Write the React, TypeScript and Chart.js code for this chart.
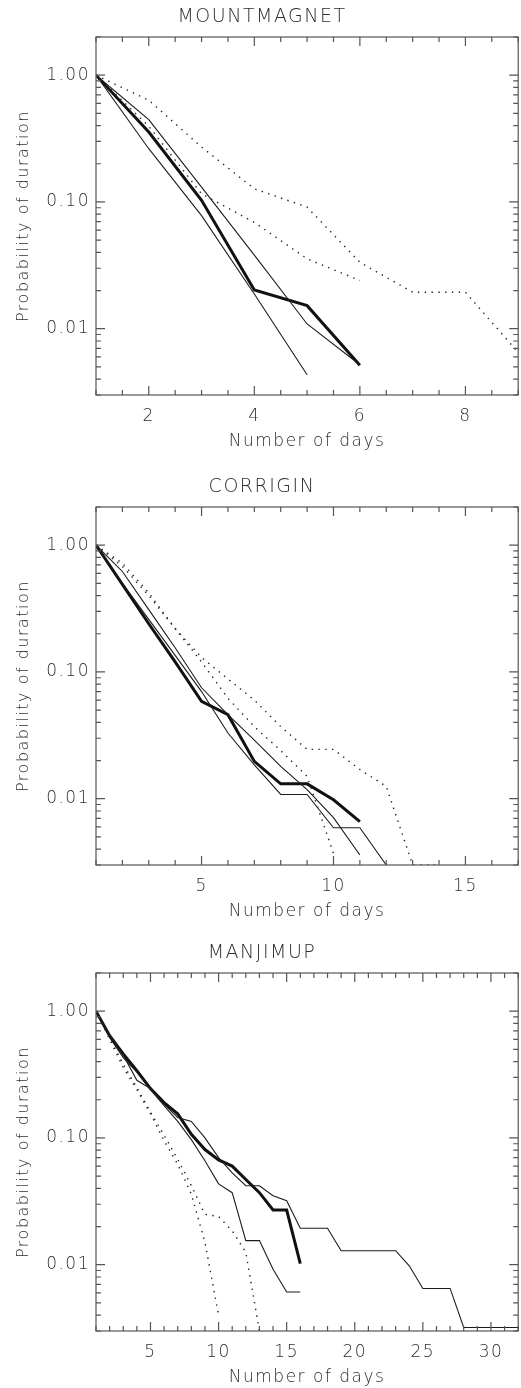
import React, { useEffect, useRef } from 'react';
import { Chart, registerables } from 'chart.js';

Chart.register(...registerables);

// ---------- shared axis data ----------
const Y_MIN = 0.003;
const Y_MAX = 2;
const yLabelValues = [0.01, 0.1, 1];
const yLabelTexts = ['0.01', '0.10', '1.00'];
const yAxisTitle = 'Probability of duration';
const xAxisTitle = 'Number of days';

// ---------- MOUNTMAGNET ----------
const mmTitle = 'MOUNTMAGNET';
const mmDays = [1, 2, 3, 4, 5, 6, 7, 8, 9];
const mmThick = [1.0, 0.356, 0.103, 0.0202, 0.0152, 0.00516];
const mmThinA = [1.0, 0.446, 0.131, 0.038, 0.0109, 0.0052];
const mmThinB = [1.0, 0.263, 0.078, 0.0188, 0.00433];
const mmDotA = [1.0, 0.634, 0.271, 0.127, 0.091, 0.0334, 0.0194, 0.0194, 0.0065];
const mmDotB = [1.0, 0.395, 0.116, 0.069, 0.0356, 0.024];

// ---------- CORRIGIN ----------
const coTitle = 'CORRIGIN';
const coDays = [1, 2, 3, 4, 5, 6, 7, 8, 9, 10, 11, 12, 13, 14, 15, 16, 17];
const coThick = [1.0, 0.49, 0.24, 0.12, 0.0587, 0.046, 0.0197, 0.0131, 0.0131, 0.0098, 0.0066];
const coThinA = [1.0, 0.62, 0.31, 0.155, 0.075, 0.046, 0.029, 0.018, 0.0118, 0.0071, 0.0036];
const coThinB = [1.0, 0.5, 0.26, 0.135, 0.07, 0.033, 0.0185, 0.0108, 0.0108, 0.0059, 0.0059, 0.003];
const coDotA = [1.0, 0.68, 0.4, 0.22, 0.13, 0.088, 0.06, 0.037, 0.0245, 0.0245, 0.017, 0.0125, 0.003, 0.003];
const coDotB = [1.0, 0.72, 0.42, 0.22, 0.12, 0.062, 0.037, 0.024, 0.015, 0.0037];

// ---------- MANJIMUP ----------
const maTitle = 'MANJIMUP';
const maDays = [
  1, 2, 3, 4, 5, 6, 7, 8, 9, 10, 11, 12, 13, 14, 15, 16,
  17, 18, 19, 20, 21, 22, 23, 24, 25, 26, 27, 28, 29, 30, 31, 32,
];
const maThick = [1.0, 0.64, 0.46, 0.34, 0.245, 0.19, 0.155, 0.107, 0.081, 0.067, 0.06, 0.047, 0.037, 0.027, 0.027, 0.0102];
const maThinA = [
  1.0, 0.65, 0.45, 0.285, 0.245, 0.185, 0.145, 0.135, 0.1, 0.07, 0.053, 0.042, 0.042, 0.035, 0.032, 0.0194,
  0.0194, 0.0194, 0.0129, 0.0129, 0.0129, 0.0129, 0.0129, 0.0098, 0.0065, 0.0065, 0.0065, 0.0032, 0.0032, 0.0032, 0.0032, 0.0032,
];
const maThinB = [1.0, 0.62, 0.43, 0.33, 0.24, 0.18, 0.135, 0.097, 0.066, 0.0434, 0.037, 0.0155, 0.0155, 0.0092, 0.0061, 0.0061];
const maDotA = [1.0, 0.6, 0.36, 0.24, 0.155, 0.095, 0.062, 0.036, 0.015, 0.004];
const maDotB = [1.0, 0.62, 0.38, 0.25, 0.16, 0.105, 0.068, 0.042, 0.025, 0.024, 0.0185, 0.0125, 0.003];

// ---------- styling ----------
const FAMILY = '"DejaVu Sans", "Liberation Sans", sans-serif';
const TEXT = '#2e2e2e';
const AXIS = '#555555';
const LINE = '#111111';
const CANVAS_W = 530;
const CANVAS_H = 452;
const PANEL_TOPS = [0, 470, 936];

type Style = 'thick' | 'thin' | 'dot';
type PanelCfg = {
  title: string;
  days: number[];
  xMax: number;
  minorStep: number;
  labelStep: number;
  series: { values: number[]; style: Style }[];
};

const panels: PanelCfg[] = [
  {
    title: mmTitle, days: mmDays, xMax: 9, minorStep: 0.5, labelStep: 2,
    series: [
      { values: mmDotA, style: 'dot' }, { values: mmDotB, style: 'dot' },
      { values: mmThinA, style: 'thin' }, { values: mmThinB, style: 'thin' },
      { values: mmThick, style: 'thick' },
    ],
  },
  {
    title: coTitle, days: coDays, xMax: 17, minorStep: 1, labelStep: 5,
    series: [
      { values: coDotA, style: 'dot' }, { values: coDotB, style: 'dot' },
      { values: coThinA, style: 'thin' }, { values: coThinB, style: 'thin' },
      { values: coThick, style: 'thick' },
    ],
  },
  {
    title: maTitle, days: maDays, xMax: 32, minorStep: 1, labelStep: 5,
    series: [
      { values: maDotA, style: 'dot' }, { values: maDotB, style: 'dot' },
      { values: maThinA, style: 'thin' }, { values: maThinB, style: 'thin' },
      { values: maThick, style: 'thick' },
    ],
  },
];

function styleFor(s: Style) {
  if (s === 'thick') return { borderWidth: 3, borderColor: LINE, borderDash: [] as number[] };
  if (s === 'thin') return { borderWidth: 1.1, borderColor: '#1c1c1c', borderDash: [] as number[] };
  return { borderWidth: 1.4, borderColor: '#222222', borderDash: [1.4, 5.4] };
}

function yTickValues(): number[] {
  const out: number[] = [];
  for (let e = -3; e <= 0; e++) {
    for (let m = 1; m <= 9; m++) {
      const v = Number((m * Math.pow(10, e)).toPrecision(6));
      if (v >= Y_MIN - 1e-12 && v <= Y_MAX + 1e-12) out.push(v);
    }
  }
  return out;
}

const setSpacing = (chart: any) => {
  try { chart.ctx.letterSpacing = '1.5px'; } catch (e) { /* ignore */ }
};

const framePlugin = {
  id: 'idlFrame',
  beforeLayout(chart: any) { setSpacing(chart); },
  beforeDraw(chart: any) { setSpacing(chart); },
  afterDraw(chart: any) {
    const { ctx, chartArea } = chart;
    const { left, right, top, bottom } = chartArea;
    const xs = chart.scales.x;
    const ys = chart.scales.y;
    ctx.save();
    ctx.strokeStyle = AXIS;
    ctx.lineWidth = 1.2;
    ctx.strokeRect(left, top, right - left, bottom - top);
    ctx.beginPath();
    xs.ticks.forEach((t: any) => {
      const px = xs.getPixelForValue(t.value);
      const len = t.major ? 9 : 5;
      ctx.moveTo(px, bottom); ctx.lineTo(px, bottom - len);
      ctx.moveTo(px, top); ctx.lineTo(px, top + len);
    });
    ys.ticks.forEach((t: any) => {
      const py = ys.getPixelForValue(t.value);
      const len = t.major ? 9 : 5;
      ctx.moveTo(left, py); ctx.lineTo(left + len, py);
      ctx.moveTo(right, py); ctx.lineTo(right - len, py);
    });
    ctx.stroke();
    ctx.restore();
  },
};

function Panel({ cfg, top }: { cfg: PanelCfg; top: number }) {
  const ref = useRef<HTMLCanvasElement | null>(null);
  useEffect(() => {
    if (!ref.current) return;
    const datasets = cfg.series.map((s) => ({
      data: s.values.map((v, i) => ({ x: cfg.days[i], y: v })),
      pointRadius: 0,
      tension: 0,
      fill: false,
      borderCapStyle: 'butt' as const,
      borderJoinStyle: 'miter' as const,
      ...styleFor(s.style),
    }));
    const font = { family: FAMILY, size: 17, weight: 300 as any };
    const chart = new Chart(ref.current, {
      type: 'line',
      data: { datasets },
      options: {
        animation: false,
        responsive: false,
        maintainAspectRatio: false,
        events: [],
        layout: { padding: { top: 0, left: 0, right: CANVAS_W - 524, bottom: 0 } },
        plugins: {
          legend: { display: false },
          tooltip: { enabled: false },
          title: {
            display: true,
            text: cfg.title,
            color: TEXT,
            font: { family: FAMILY, size: 19, weight: 300 as any },
            padding: { top: 5.6, bottom: 8.6 },
          },
        },
        scales: {
          x: {
            type: 'linear',
            min: 1,
            max: cfg.xMax,
            grid: { display: false, drawTicks: false },
            border: { display: false },
            afterBuildTicks: (scale: any) => {
              const ticks: any[] = [];
              const n = Math.round((cfg.xMax - 1) / cfg.minorStep);
              for (let i = 0; i <= n; i++) {
                const v = 1 + i * cfg.minorStep;
                ticks.push({ value: v, major: Math.abs(v % cfg.labelStep) < 1e-9 });
              }
              scale.ticks = ticks;
            },
            afterFit: (scale: any) => { scale.height = CANVAS_H - 37 - 358; },
            ticks: {
              autoSkip: false,
              maxRotation: 0,
              padding: 11.8,
              color: TEXT,
              font,
              callback: (value: any) => (Math.abs(Number(value) % cfg.labelStep) < 1e-9 ? String(value) : ''),
            },
            title: {
              display: true,
              text: xAxisTitle,
              color: TEXT,
              font,
              padding: { top: 0, bottom: 0 },
            },
          },
          y: {
            type: 'logarithmic',
            min: Y_MIN,
            max: Y_MAX,
            grid: { display: false, drawTicks: false },
            border: { display: false },
            afterBuildTicks: (scale: any) => {
              scale.ticks = yTickValues().map((v) => ({
                value: v,
                major: yLabelValues.some((lv) => Math.abs(lv - v) / lv < 1e-6),
              }));
            },
            afterFit: (scale: any) => { scale.width = 96; },
            ticks: {
              autoSkip: false,
              padding: 6,
              color: TEXT,
              font,
              callback: (value: any) => {
                const i = yLabelValues.findIndex((lv) => Math.abs(lv - Number(value)) / lv < 1e-6);
                return i >= 0 ? yLabelTexts[i] : '';
              },
            },
            title: {
              display: true,
              text: yAxisTitle,
              color: TEXT,
              font: { family: FAMILY, size: 16, weight: 300 as any },
              padding: { top: 14.4, bottom: 0 },
            },
          },
        },
      },
      plugins: [framePlugin],
    } as any);
    return () => chart.destroy();
  }, [cfg]);
  return (
    <canvas
      ref={ref}
      width={CANVAS_W}
      height={CANVAS_H}
      style={{ position: 'absolute', left: 0, top, width: CANVAS_W, height: CANVAS_H }}
    />
  );
}

export default function App() {
  return (
    <div
      style={{
        position: 'absolute',
        left: 0,
        top: 0,
        width: 521,
        height: 1388,
        overflow: 'hidden',
        background: '#ffffff',
      }}
    >
      {panels.map((p, i) => (
        <Panel key={p.title} cfg={p} top={PANEL_TOPS[i]} />
      ))}
    </div>
  );
}
